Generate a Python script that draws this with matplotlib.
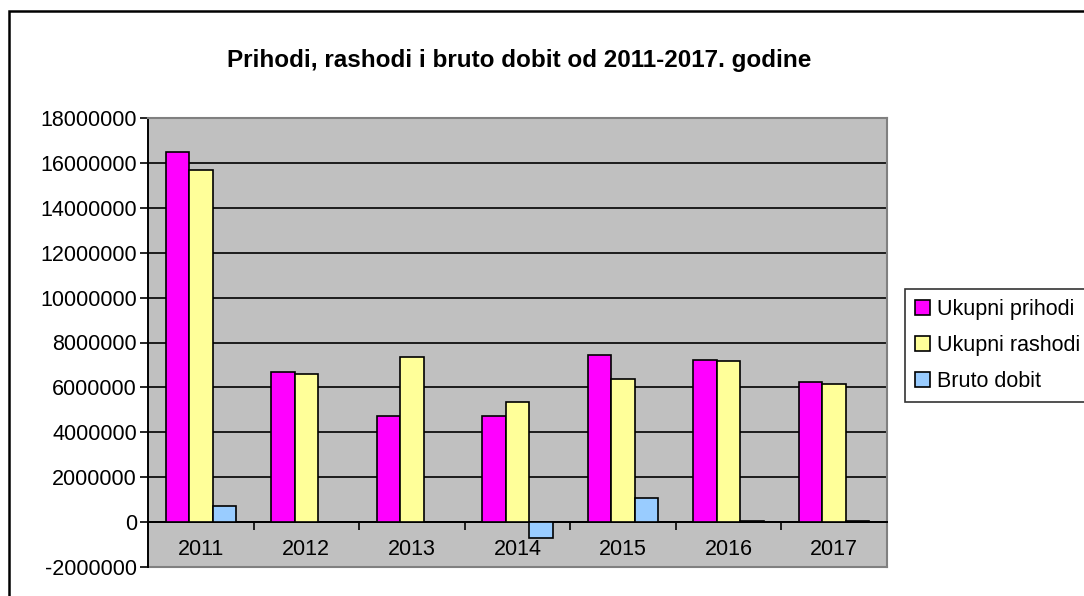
import numpy as np
from matplotlib import pyplot as plt
from matplotlib.patches import Rectangle

YEARS = ["2011", "2012", "2013", "2014", "2015", "2016", "2017"]
PRIHODI = [16500000, 6670000, 4710000, 4710000, 7450000, 7220000, 6250000]
RASHODI = [15700000, 6580000, 7370000, 5350000, 6380000, 7160000, 6160000]
DOBIT = [700000, np.nan, np.nan, -730000, 1060000, 60000, 50000]
SERIES = ["Ukupni prihodi", "Ukupni rashodi", "Bruto dobit"]
COLORS = ["#FF00FF", "#FFFF99", "#99CCFF"]

plt.rcParams["font.family"] = ["Liberation Sans", "DejaVu Sans"]

fig = plt.figure(figsize=(10.84, 5.96), dpi=100)
ax = fig.add_axes([148 / 1084, 29 / 596, 739 / 1084, 449 / 596])
ax.set_facecolor("#C0C0C0")

x = np.arange(len(YEARS))
w = 2 / 9
for i, (vals, name, col) in enumerate(zip([PRIHODI, RASHODI, DOBIT], SERIES, COLORS)):
    ax.bar(x + (i - 1) * w, vals, w, color=col, edgecolor="black",
           linewidth=1.2, label=name, zorder=3)

ax.set_xlim(-0.5, len(YEARS) - 0.5)
ax.set_ylim(-2000000, 18000000)
ax.set_yticks(np.arange(-2000000, 18000001, 2000000))
ax.yaxis.set_major_formatter(lambda v, p: f"{int(v)}")
ax.tick_params(axis="y", labelsize=15.5, length=6, width=1.2, pad=2)
for yv in range(0, 18000001, 2000000):
    ax.axhline(yv, color="black", linewidth=1.2, zorder=1)

# x axis sits on zero, ticks between categories, labels centred
ax.spines["bottom"].set_position(("data", 0))
ax.spines["bottom"].set_linewidth(1.4)
ax.set_xticks(np.arange(-0.5, len(YEARS), 1.0))
ax.set_xticklabels([])
ax.tick_params(axis="x", which="major", length=6, width=1.2, direction="out")
ax.set_xticks(x, minor=True)
ax.set_xticklabels(YEARS, minor=True)
ax.tick_params(axis="x", which="minor", length=0, labelsize=15.5, pad=12)

ax.spines["left"].set_linewidth(1.4)
for s in ["top", "right"]:
    ax.spines[s].set_color("#808080")
    ax.spines[s].set_linewidth(1.5)
ax.add_line(plt.Line2D([0, 1], [0, 0], transform=ax.transAxes,
                       color="#808080", linewidth=1.5, clip_on=False))

fig.text(519 / 1084, 1 - 60 / 596, "Prihodi, rashodi i bruto dobit od 2011-2017. godine",
         ha="center", va="center", fontsize=17.5, fontweight="bold")

leg = fig.legend(loc="upper left", bbox_to_anchor=(905 / 1084, 1 - 289 / 596),
                 fontsize=15.5, frameon=True, fancybox=False, handlelength=0.7,
                 handleheight=0.7, handletextpad=0.35, labelspacing=0.7,
                 borderpad=0.45, borderaxespad=0)
leg.get_frame().set_edgecolor("black")
leg.get_frame().set_linewidth(1.2)

fig.add_artist(Rectangle((9 / 1084, -0.1), 1.2, 1.1 - 11 / 596, transform=fig.transFigure,
                         fill=False, edgecolor="black", linewidth=1.8))

fig.savefig("out.png", dpi=100)
